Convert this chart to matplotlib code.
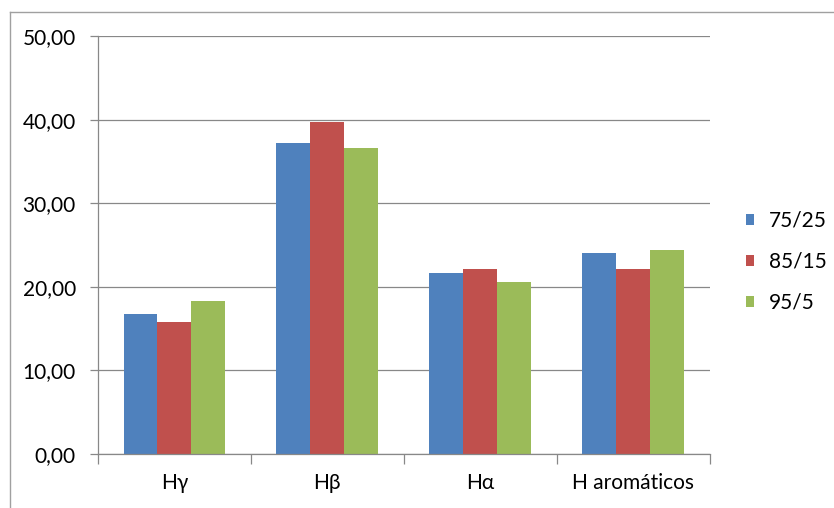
import matplotlib
matplotlib.use("Agg")
import matplotlib.pyplot as plt
import numpy as np
from matplotlib.ticker import FuncFormatter
from matplotlib.lines import Line2D

plt.rcParams['font.family'] = ['Lato', 'DejaVu Sans']

categories = ['Hγ', 'Hβ', 'Hα', 'H aromáticos']
series_names = ['75/25', '85/15', '95/5']
s75_25 = [16.7, 37.2, 21.7, 24.1]
s85_15 = [15.8, 39.7, 22.1, 22.1]
s95_5 = [18.3, 36.6, 20.6, 24.4]
colors = ['#4F81BD', '#C0504D', '#9BBB59']

W, H = 834, 508
fig = plt.figure(figsize=(W / 100, H / 100), dpi=100)
ax = fig.add_axes([98 / W, 54 / H, (709.5 - 98) / W, 418 / H])

x = np.arange(len(categories))
bw = 0.222
for i, (vals, name) in enumerate(zip([s75_25, s85_15, s95_5], series_names)):
    ax.bar(x + (i - 1) * bw, vals, bw, color=colors[i], label=name, zorder=2)

grid_c = '#888888'
ax.set_ylim(0, 50)
ax.set_xlim(-0.5, len(categories) - 0.5)
ax.set_yticks(range(0, 51, 10))
ax.yaxis.set_major_formatter(FuncFormatter(lambda v, p: f"{v:.2f}".replace('.', ',')))
ax.yaxis.grid(True, color=grid_c, linewidth=0.9, zorder=0)
ax.set_axisbelow(True)

# category boundaries get the tick marks, centers get the labels
ax.set_xticks(np.arange(-0.5, len(categories), 1))
ax.set_xticklabels([])
ax.set_xticks(x, minor=True)
ax.set_xticklabels(categories, minor=True)
ax.tick_params(axis='x', which='major', length=7, width=0.9, color=grid_c, direction='out')
ax.tick_params(axis='x', which='minor', length=0, pad=14, labelsize=15)
ax.tick_params(axis='y', length=6, width=0.9, color=grid_c, direction='out', pad=10, labelsize=15)

for s in ['top', 'right']:
    ax.spines[s].set_visible(False)
for s in ['left', 'bottom']:
    ax.spines[s].set_color(grid_c)
    ax.spines[s].set_linewidth(0.9)

ax.legend(loc='center left', bbox_to_anchor=(746 / W, (H - 261.7) / H),
          bbox_transform=fig.transFigure, frameon=False, fontsize=15,
          handlelength=0.4, handleheight=0.45, handletextpad=0.7,
          labelspacing=1.0, borderpad=0, borderaxespad=0)

# outer chart border (only left and top fall inside the image)
border_c = '#a0a0a0'
fig.add_artist(Line2D([10 / W, 10 / W], [0, 1 - 12 / H], transform=fig.transFigure,
                      color=border_c, linewidth=1.0))
fig.add_artist(Line2D([10 / W, 1], [1 - 12 / H, 1 - 12 / H], transform=fig.transFigure,
                      color=border_c, linewidth=1.0))

fig.savefig('out.png', dpi=100)
